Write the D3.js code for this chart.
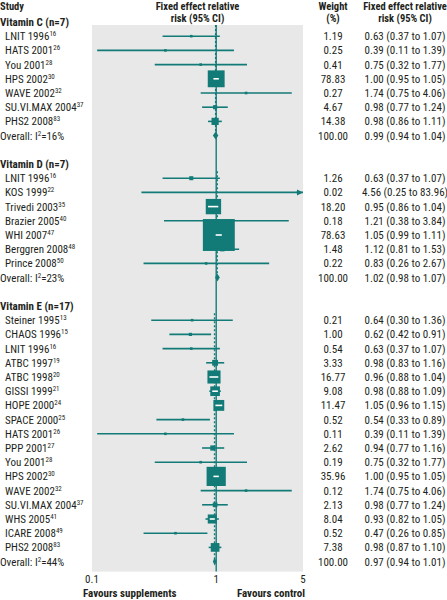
<!DOCTYPE html>
<html><head><meta charset="utf-8">
<script src="https://cdn.jsdelivr.net/npm/d3@7"></script>
<style>body{margin:0;background:#fff}</style>
</head><body><svg id="c" width="447" height="600"></svg>
<script>
// ---------- data ----------
const groupNames = ["Vitamin C (n=7)", "Vitamin D (n=7)", "Vitamin E (n=17)"];
const studyGroup = [0,0,0,0,0,0,0, 1,1,1,1,1,1,1, 2,2,2,2,2,2,2,2,2,2,2,2,2,2,2,2,2];
const studyNames = ["LNIT 1996","HATS 2001","You 2001","HPS 2002","WAVE 2002","SU.VI.MAX 2004","PHS2 2008",
  "LNIT 1996","KOS 1999","Trivedi 2003","Brazier 2005","WHI 2007","Berggren 2008","Prince 2008",
  "Steiner 1995","CHAOS 1996","LNIT 1996","ATBC 1997","ATBC 1998","GISSI 1999","HOPE 2000","SPACE 2000",
  "HATS 2001","PPP 2001","You 2001","HPS 2002","WAVE 2002","SU.VI.MAX 2004","WHS 2005","ICARE 2008","PHS2 2008"];
const studyRefs = ["16","26","28","30","32","37","83",
  "16","22","35","40","47","48","50",
  "13","15","16","19","20","21","24","25","26","27","28","30","32","37","41","49","83"];
const studyWeights = [1.19,0.25,0.41,78.83,0.27,4.67,14.38,
  1.26,0.02,18.20,0.18,78.63,1.48,0.22,
  0.21,1.00,0.54,3.33,16.77,9.08,11.47,0.52,0.11,2.62,0.19,35.96,0.12,2.13,8.04,0.52,7.38];
const studyRR = [0.63,0.39,0.75,1.00,1.74,0.98,0.98,
  0.63,4.56,0.95,1.21,1.05,1.12,0.83,
  0.64,0.62,0.63,0.98,0.96,0.98,1.05,0.54,0.39,0.94,0.75,1.00,1.74,0.98,0.93,0.47,0.98];
const studyLo = [0.37,0.11,0.32,0.95,0.75,0.77,0.86,
  0.37,0.25,0.86,0.38,0.99,0.81,0.26,
  0.30,0.42,0.37,0.83,0.88,0.88,0.96,0.33,0.11,0.77,0.32,0.95,0.75,0.77,0.82,0.26,0.87];
const studyHi = [1.07,1.39,1.77,1.05,4.06,1.24,1.11,
  1.07,83.96,1.04,3.84,1.11,1.53,2.67,
  1.36,0.91,1.07,1.16,1.04,1.09,1.15,0.89,1.39,1.16,1.77,1.05,4.06,1.24,1.05,0.85,1.10];
const overallI2 = ["16%","23%","44%"];
const overallWeight = [100,100,100];
const overallRR = [0.99,1.02,0.97];
const overallLo = [0.94,0.98,0.94];
const overallHi = [1.04,1.07,1.01];
const xTicks = [0.1, 1, 5];

// ---------- style ----------
const TEAL = "#127b77", GREY = "#e8e8e8", INK = "#231f20";
const FONT = "'Liberation Sans Narrow','Arial Narrow','Roboto Condensed','Liberation Sans',sans-serif";
const boxK = [1.9, 3.6, 3.2];

// ---------- build rows ----------
const rows = [];
let r = 0;
groupNames.forEach((g, gi) => {
  rows.push({type: "header", label: g, row: r++, g: gi});
  studyNames.forEach((s, i) => {
    if (studyGroup[i] !== gi) return;
    rows.push({type: "study", label: s, ref: studyRefs[i], w: studyWeights[i], rr: studyRR[i], lo: studyLo[i], hi: studyHi[i], row: r++, g: gi});
  });
  rows.push({type: "overall", label: "Overall: I", i2: overallI2[gi], w: overallWeight[gi], rr: overallRR[gi], lo: overallLo[gi], hi: overallHi[gi], row: r++, g: gi});
  r++;
});
const lastRow = r - 2;

const svg = d3.select("#c").style("font-family", FONT);
const x = d3.scaleLog().domain([0.1, 5]).range([92, 303]);
const y = d3.scaleLinear().domain([0, lastRow]).range([22, 22 + lastRow * 14.2]);
const f2 = d3.format(".2f");

const plotTop = y(0) + 3, plotBot = y(lastRow) + 10;
svg.append("rect").attr("x", x.range()[0]).attr("y", plotTop)
  .attr("width", x.range()[1] - x.range()[0]).attr("height", plotBot - plotTop).attr("fill", GREY);

// headers
const hdr = svg.append("g").attr("font-weight", "bold").attr("font-size", 10.5).attr("fill", INK);
hdr.append("text").attr("x", 0).attr("y", 10).text("Study");
const cx = (x.range()[0] + x.range()[1]) / 2;
hdr.append("text").attr("x", cx).attr("y", 10).attr("text-anchor", "middle").text("Fixed effect relative");
hdr.append("text").attr("x", cx).attr("y", 21.5).attr("text-anchor", "middle").text("risk (95% CI)");
hdr.append("text").attr("x", 333).attr("y", 10).attr("text-anchor", "middle").text("Weight");
hdr.append("text").attr("x", 333).attr("y", 21.5).attr("text-anchor", "middle").text("(%)");
hdr.append("text").attr("x", 405).attr("y", 10).attr("text-anchor", "middle").text("Fixed effect relative");
hdr.append("text").attr("x", 405).attr("y", 21.5).attr("text-anchor", "middle").text("risk (95% CI)");

// reference line at 1
svg.append("line").attr("x1", x(1)).attr("x2", x(1)).attr("y1", plotTop).attr("y2", plotBot)
  .attr("stroke", TEAL).attr("stroke-width", 1.4);

// dashed overall lines
rows.filter(d => d.type === "overall").forEach(d => {
  const first = rows.find(q => q.g === d.g && q.type === "study");
  svg.append("line").attr("x1", x(d.rr)).attr("x2", x(d.rr))
    .attr("y1", d.g === 0 ? plotTop : y(first.row) - 7).attr("y2", y(d.row))
    .attr("stroke", TEAL).attr("stroke-width", 1.4).attr("stroke-dasharray", "2,2");
});

// left labels and right columns
const lab = svg.append("g").attr("font-size", 11).attr("fill", INK);
rows.forEach(d => {
  const t = lab.append("text").attr("y", y(d.row) + 4);
  if (d.type === "header") {
    t.attr("x", 0).attr("font-weight", "bold").text(d.label);
  } else if (d.type === "study") {
    t.attr("x", 5).text(d.label);
    t.append("tspan").attr("font-size", 7).attr("dy", -4).text(d.ref);
  } else {
    t.attr("x", 0).text(d.label);
    t.append("tspan").attr("font-size", 7).attr("dy", -4).text("2");
    t.append("tspan").attr("dy", 4).text("=" + d.i2);
  }
  if (d.type !== "header") {
    lab.append("text").attr("x", 333).attr("y", y(d.row) + 4).attr("text-anchor", "middle").text(f2(d.w));
    lab.append("text").attr("x", 405).attr("y", y(d.row) + 4).attr("text-anchor", "middle")
      .text(`${f2(d.rr)} (${f2(d.lo)} to ${f2(d.hi)})`);
  }
});

// study marks
const marks = svg.append("g");
const xMax = x.domain()[1];
rows.filter(d => d.type === "study").forEach(d => {
  const yy = y(d.row);
  const hiC = Math.min(d.hi, xMax);
  marks.append("line").attr("x1", x(Math.max(d.lo, 0.1))).attr("x2", x(hiC)).attr("y1", yy).attr("y2", yy)
    .attr("stroke", TEAL).attr("stroke-width", 1.6);
  if (d.hi > xMax) {
    const ax = x(xMax);
    marks.append("path").attr("d", `M${ax},${yy}L${ax - 6},${yy - 3}L${ax - 6},${yy + 3}Z`).attr("fill", TEAL);
  }
  const s = Math.max(2.6, boxK[d.g] * Math.sqrt(d.w));
  const c = x(d.rr);
  marks.append("rect").attr("x", c - s / 2).attr("y", yy - s / 2).attr("width", s).attr("height", s).attr("fill", TEAL);
  if (s > 9) {
    const a = Math.max(x(d.lo), c - s / 2 + 2), b = Math.min(x(hiC), c + s / 2 - 2);
    marks.append("line").attr("x1", a).attr("x2", b).attr("y1", yy).attr("y2", yy)
      .attr("stroke", "#fff").attr("stroke-width", 1.6);
  }
});
rows.filter(d => d.type === "overall").forEach(d => {
  const yy = y(d.row);
  marks.append("path").attr("d", `M${x(d.lo)},${yy}L${x(d.rr)},${yy - 4}L${x(d.hi)},${yy}L${x(d.rr)},${yy + 4}Z`)
    .attr("fill", TEAL);
});

// axis tick labels
const ax = svg.append("g").attr("font-size", 11).attr("fill", INK);
xTicks.forEach(t => {
  ax.append("text").attr("x", x(t)).attr("y", plotBot + 11).attr("text-anchor", "middle").text(d3.format("~g")(t));
});
ax.append("text").attr("x", 83).attr("y", 597).attr("font-weight", "bold").text("Favours supplements");
ax.append("text").attr("x", 305).attr("y", 597).attr("text-anchor", "end").attr("font-weight", "bold").text("Favours control");
</script></body></html>
